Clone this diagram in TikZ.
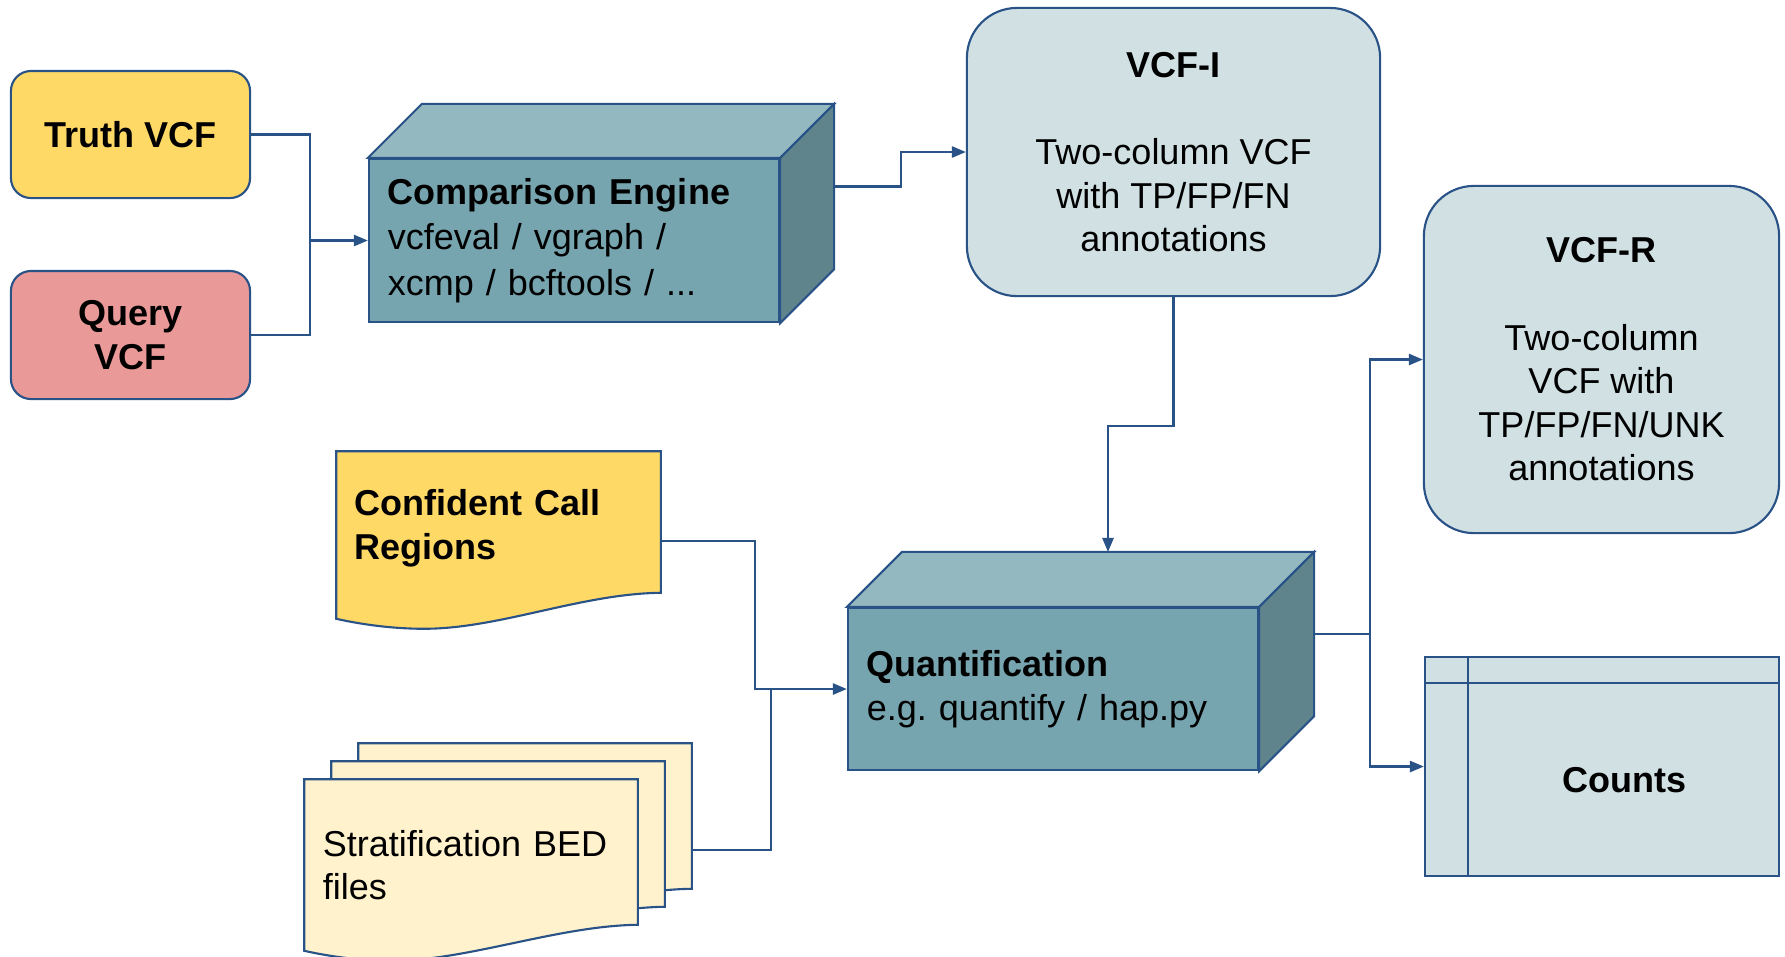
\documentclass[tikz,border=0pt]{standalone}
\usepackage{fontspec}
\setmainfont{Liberation Sans}
\usetikzlibrary{arrows.meta,calc,positioning,backgrounds}
\definecolor{linecol}{RGB}{41,82,135}
\definecolor{truthcol}{HTML}{FFD966}
\definecolor{querycol}{HTML}{EA9999}
\definecolor{tealfront}{HTML}{76A5AF}
\definecolor{tealtop}{HTML}{94B8BF}
\definecolor{tealside}{HTML}{5F848B}
\definecolor{cyanlt}{HTML}{D0E0E3}
\definecolor{bedcol}{HTML}{FFF2CC}
\tikzset{>={Triangle[length=4pt,width=3.2pt]}}
\tikzset{
    bord/.style={draw=linecol,line width=0.6pt},
    flow/.style={bord,->},
    vcfbox/.style={rectangle,bord,rounded corners=0.2cm,align=center,inner sep=0pt,font=\bfseries},
    result/.style={rectangle,bord,fill=cyanlt,rounded corners=0.5cm,align=center,inner sep=0pt},
    engine/.style={rectangle,bord,fill=tealfront,align=left,inner sep=0.19cm},
    sheet/.style={rectangle,inner xsep=0.18cm,inner ysep=0pt,align=left},
}
% top and side faces of a block
\newcommand{\cubefaces}[3]{%
  \draw[bord,fill=tealtop] (#1.north west) -- ++(#2,-#3) -- ($(#1.north east)+(#2,-#3)$) -- (#1.north east) -- cycle;
  \draw[bord,fill=tealside] (#1.north east) -- ++(#2,-#3) -- ($(#1.south east)+(#2,-#3)$) -- (#1.south east) -- cycle;
}
% page with a wavy bottom
\newcommand{\docsheet}[2]{%
  \draw[bord,fill=#2] (#1.south west) -- (#1.north west) -- (#1.north east) -- ($(#1.south east)+(0,-26)$)
    .. controls +(-80,1) and ($(#1.south west)+(163,10)$) .. ($(#1.south west)+(88,10)$)
    .. controls +(-34,0) and +(22,5) .. (#1.south west) -- cycle;
}
\begin{document}
\fontsize{10.24}{12.4}\selectfont\frenchspacing
\begin{tikzpicture}[x=0.01cm,y=-0.01cm]
        \useasboundingbox (0,0) rectangle (1785,956);

        \node[vcfbox,fill=truthcol,minimum width=2.39cm,minimum height=1.27cm] (t) at (130.5,134.5) {Truth VCF};
        \node[vcfbox,fill=querycol,minimum width=2.39cm,minimum height=1.28cm] (q) at (130.5,335) {Query\\VCF};

        \node[engine,minimum height=1.63cm,text width=3.72cm] (c) at (574,240.5)
            {\textbf{Comparison Engine}\\[0.5pt]vcfeval / vgraph /\\[0.5pt]xcmp / bcftools / ...};
        \cubefaces{c}{54}{54}

        \node[result,minimum width=4.13cm,minimum height=2.88cm] (vi) at (1173.5,152)
            {\textbf{VCF-I}\\[12.4pt]Two-column VCF\\with TP/FP/FN\\annotations};

        \node[sheet,minimum height=1.66cm,text width=2.87cm,text depth=0.65cm,font=\bfseries] (cr) at (498.5,535)
            {Confident Call\\Regions};

        \node[sheet,minimum height=1.70cm,text width=2.96cm] (s3) at (525,829) {};
        \node[sheet,minimum height=1.70cm,text width=2.96cm] (s2) at ($(s3)+(-27,18)$) {};
        \node[sheet,minimum height=1.70cm,text width=2.96cm] (s1) at ($(s2)+(-27,18)$) {Stratification BED\\files};

        \begin{scope}[on background layer]
            \docsheet{cr}{truthcol}
            \docsheet{s3}{bedcol}
            \docsheet{s2}{bedcol}
            \docsheet{s1}{bedcol}
        \end{scope}

        \node[engine,minimum width=4.10cm,minimum height=1.62cm,text width=3.72cm] (qf) at (1053,689)
            {\textbf{Quantification}\\e.g. quantify / hap.py};
        \cubefaces{qf}{55}{55}

        \node[result,minimum width=3.55cm,minimum height=3.47cm] (vr) at (1601.5,359.5)
            {\textbf{VCF-R}\\[12.4pt]Two-column\\VCF with\\TP/FP/FN/UNK\\annotations};

        \node[bord,fill=cyanlt,minimum width=3.54cm,minimum height=2.19cm,
            label={[font=\bfseries,shift={(22,14)}]center:Counts}] (cnt) at (1602,766.5) {};
        \draw[bord] ($(cnt.north west)+(44,0)$) -- ($(cnt.south west)+(44,0)$);
        \draw[bord] ($(cnt.north west)+(0,27)$) -- ($(cnt.north east)+(0,27)$);

        \coordinate (j1) at (310,240.5);
        \draw[bord] (t) -| (j1);
        \draw[bord] (q) -| (j1);
        \draw[flow] (j1) -- (c);

        \coordinate (cb) at ($(c.east)+(54,-54)$);
        \draw[flow] (cb) -- ++(67,0) |- (vi);

        \coordinate (qtop) at ($(qf.north)+(55,-55)$);
        \draw[flow] (vi.south) -- ++(0,129) -| (qtop);

        \coordinate (cro) at ($(cr.east)+(0,6)$);
        \coordinate (sb) at ($(s3.east)+(0,21)$);
        \coordinate (j2) at (771,689);
        \draw[bord] (cro) -- ++(94,0) |- (j2);
        \draw[bord] (sb) -| (j2);
        \draw[flow] (j2) -- (qf);

        \coordinate (qr) at ($(qf.east)+(55,-55)$);
        \draw[bord] (qr) -- ++(56,0) coordinate (j3);
        \draw[flow] (j3) |- (vr);
        \draw[flow] (j3) |- (cnt);
\end{tikzpicture}
\end{document}
